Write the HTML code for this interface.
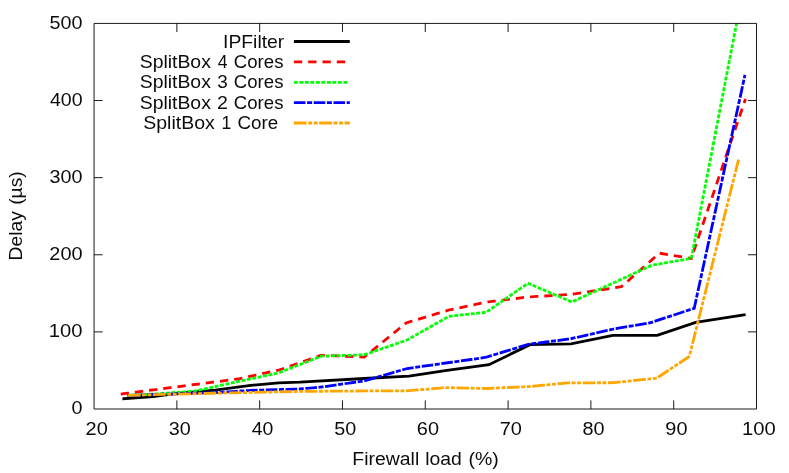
<!DOCTYPE html>
<html>
<head>
<meta charset="utf-8">
<title>Delay vs Firewall load</title>
<style>
html,body{margin:0;padding:0;background:#ffffff;}
body{width:789px;height:473px;overflow:hidden;}
svg{display:block;}
text{font-family:"Liberation Sans",sans-serif;fill:#000000;}
</style>
</head>
<body>
<svg width="789" height="473" viewBox="0 0 789 473">
<rect x="0" y="0" width="789" height="473" fill="#ffffff"/>
<defs><clipPath id="plotclip"><rect x="94.0" y="23.4" width="662.5" height="385.6"/></clipPath></defs>

<g fill="none" stroke-width="2.80" stroke-linecap="square" stroke-linejoin="miter" clip-path="url(#plotclip)">
<path d="M123.8 398.7 L153.0 396.6 L177.1 393.4 L215.0 390.2 L250.7 385.4 L278.6 382.8 L300.0 382.2 L364.0 378.5 L409.0 376.2 L447.0 370.4 L489.0 364.7 L530.0 344.7 L570.9 343.9 L612.8 335.3 L657.2 335.3 L695.7 322.3 L744.2 314.9" stroke="#000000"/>
<path d="M122.1 393.9 L209.5 382.6 L238.0 379.0 L279.5 369.9 L321.4 355.2 L364.2 357.1 L406.2 322.9 L449.0 310.0 L487.1 302.0 L528.0 297.0 L571.9 294.3 L621.4 286.7 L659.4 253.2 L691.3 258.4" stroke="#ff0000" stroke-dasharray="5.50 8.80"/>
<path d="M691.3 258.4 L745.0 100.3" stroke="#ff0000" stroke-dasharray="5.50 8.80" stroke-dashoffset="6.03"/>
<path d="M128.7 395.3 L158.0 393.8 L195.0 391.0 L238.0 381.6 L278.6 372.9 L321.4 356.2 L364.2 354.8 L407.1 340.0 L449.0 316.3 L486.1 312.3 L528.0 283.3 L571.9 302.0 L611.5 283.8 L651.8 265.2 L691.3 258.4 L744.7 -18.9" stroke="#00ff00" stroke-dasharray="1.10 4.40"/>
<path d="M128.7 395.3 L215.0 392.6 L250.7 390.4 L300.0 388.9 L320.4 387.2 L364.2 380.9 L407.1 368.5 L485.2 357.5 L529.0 344.2 L570.0 338.9 L613.8 329.0 L649.9 322.9 L694.2 308.3 L744.7 76.2" stroke="#0000ff" stroke-dasharray="8.80 4.40 2.20 4.40"/>
<path d="M129.1 395.3 L215.0 393.2 L300.0 391.4 L390.0 390.8 L407.0 390.8 L445.2 387.6 L487.0 388.5 L530.0 386.5 L568.0 382.9 L613.8 382.7 L656.6 378.2 L689.3 356.5 L738.7 159.0" stroke="#ffa500" stroke-dasharray="9.90 4.40 1.10 4.40 1.10 4.40"/>
</g>
<g fill="none" stroke-width="2.80" stroke-linecap="square">
<path d="M295.3 41.5 L348.4 41.5" stroke="#000000"/>
<path d="M295.3 61.9 L348.4 61.9" stroke="#ff0000" stroke-dasharray="5.50 8.80"/>
<path d="M295.3 82.4 L348.4 82.4" stroke="#00ff00" stroke-dasharray="1.10 4.40"/>
<path d="M295.3 102.6 L348.4 102.6" stroke="#0000ff" stroke-dasharray="8.80 4.40 2.20 4.40"/>
<path d="M295.3 123.0 L348.4 123.0" stroke="#ffa500" stroke-dasharray="9.90 4.40 1.10 4.40 1.10 4.40"/>
</g>
<path d="M94.05 23.42 L94.05 409.00 L756.50 409.00 L756.50 23.42 Z M176.86 409.00 V400.40 M176.86 23.42 V32.02 M259.66 409.00 V400.40 M259.66 23.42 V32.02 M342.47 409.00 V400.40 M342.47 23.42 V32.02 M425.28 409.00 V400.40 M425.28 23.42 V32.02 M508.08 409.00 V400.40 M508.08 23.42 V32.02 M590.89 409.00 V400.40 M590.89 23.42 V32.02 M673.69 409.00 V400.40 M673.69 23.42 V32.02 M94.05 331.88 H102.65 M756.50 331.88 H747.90 M94.05 254.77 H102.65 M756.50 254.77 H747.90 M94.05 177.65 H102.65 M756.50 177.65 H747.90 M94.05 100.54 H102.65 M756.50 100.54 H747.90" fill="none" stroke="#000000" stroke-width="0.9"/>
<g opacity="0.96">
<text transform="translate(71.59 414.40) scale(1.0904 1)" font-size="18.10">0</text>
<text transform="translate(48.85 337.28) scale(1.1165 1)" font-size="18.10">100</text>
<text transform="translate(49.32 260.17) scale(1.1004 1)" font-size="18.10">200</text>
<text transform="translate(49.55 183.05) scale(1.0925 1)" font-size="18.10">300</text>
<text transform="translate(49.90 105.94) scale(1.0810 1)" font-size="18.10">400</text>
<text transform="translate(49.55 28.82) scale(1.0925 1)" font-size="18.10">500</text>
<text transform="translate(85.61 434.80) scale(1.1042 1)" font-size="18.10">20</text>
<text transform="translate(168.65 434.80) scale(1.0921 1)" font-size="18.10">30</text>
<text transform="translate(251.80 434.80) scale(1.0743 1)" font-size="18.10">40</text>
<text transform="translate(334.26 434.80) scale(1.0921 1)" font-size="18.10">50</text>
<text transform="translate(416.83 434.80) scale(1.1042 1)" font-size="18.10">60</text>
<text transform="translate(499.64 434.80) scale(1.1042 1)" font-size="18.10">70</text>
<text transform="translate(582.56 434.80) scale(1.0981 1)" font-size="18.10">80</text>
<text transform="translate(665.37 434.80) scale(1.0981 1)" font-size="18.10">90</text>
<text transform="translate(742.08 434.80) scale(1.1165 1)" font-size="18.10">100</text>
<text transform="translate(352.36 465.40) scale(1.0728 1)" font-size="18.10">Firewall</text>
<text transform="translate(425.28 465.40) scale(1.0699 1)" font-size="18.10">load</text>
<text transform="translate(468.48 465.40) scale(1.0766 1)" font-size="18.10">(%)</text>
<text transform="translate(22.20 260.43) rotate(-90) scale(1.0640 1)" font-size="18.10">Delay</text>
<text transform="translate(22.20 204.80) rotate(-90) scale(1.0645 1)" font-size="18.10">(µs)</text>
<text transform="translate(223.04 47.70) scale(1.0682 1)" font-size="18.10">IPFilter</text>
<text transform="translate(139.72 67.85) scale(1.0719 1)" font-size="18.10">SplitBox</text>
<text transform="translate(217.70 67.85) scale(0.9724 1)" font-size="18.10">4</text>
<text transform="translate(233.85 67.85) scale(1.0281 1)" font-size="18.10">Cores</text>
<text transform="translate(139.72 88.35) scale(1.0719 1)" font-size="18.10">SplitBox</text>
<text transform="translate(217.35 88.35) scale(1.0427 1)" font-size="18.10">3</text>
<text transform="translate(233.85 88.35) scale(1.0281 1)" font-size="18.10">Cores</text>
<text transform="translate(139.72 108.55) scale(1.0719 1)" font-size="18.10">SplitBox</text>
<text transform="translate(217.10 108.55) scale(1.0818 1)" font-size="18.10">2</text>
<text transform="translate(233.85 108.55) scale(1.0281 1)" font-size="18.10">Cores</text>
<text transform="translate(143.21 128.95) scale(1.0796 1)" font-size="18.10">SplitBox</text>
<text transform="translate(221.40 128.95) scale(0.9724 1)" font-size="18.10">1</text>
<text transform="translate(237.44 128.95) scale(1.0390 1)" font-size="18.10">Core</text>
</g>
</svg>
</body>
</html>
